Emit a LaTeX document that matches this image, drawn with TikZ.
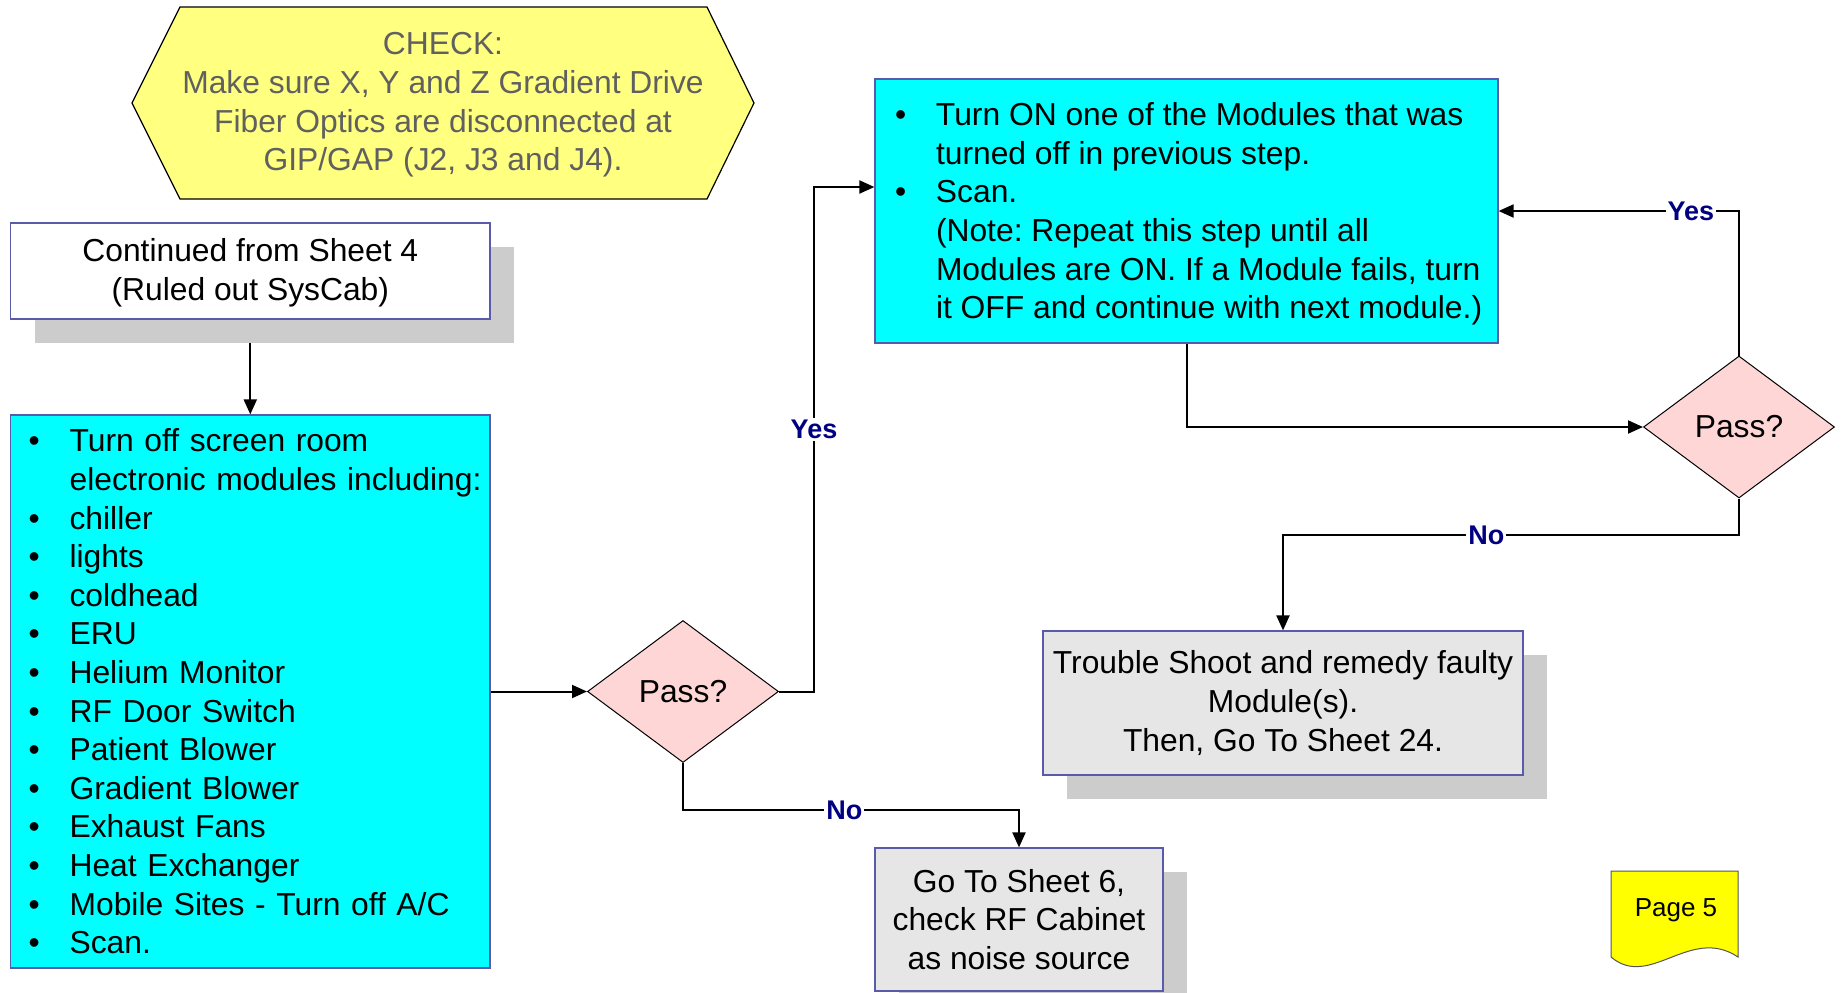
\documentclass[tikz,border=0pt]{standalone}
\usepackage{fontspec}
\setmainfont{Liberation Sans}
\usetikzlibrary{shapes.geometric,arrows.meta,shadows}

\definecolor{cyanfill}{HTML}{00FFFF}
\definecolor{boxedge}{HTML}{5A5AAA}
\definecolor{decfill}{HTML}{FFD6D6}
\definecolor{grayfill}{HTML}{E6E6E6}
\definecolor{shadowgray}{HTML}{CCCCCC}
\definecolor{hexfill}{HTML}{FFFF80}
\definecolor{hextext}{HTML}{606060}
\definecolor{navy}{HTML}{000080}
\definecolor{pagefill}{HTML}{FFFF00}
\definecolor{pageedge}{HTML}{555555}

\pgfdeclarelayer{edges}
\pgfsetlayers{edges,main}

\frenchspacing

% bullet line and indented continuation line
\newcommand{\itembul}[1]{\mbox{\makebox[20.5pt][l]{\textbullet}#1}}
\newcommand{\itemcont}[1]{\mbox{\hspace*{20.5pt}#1}}
% lower a block without changing the size the node sees
\newcommand{\lowerby}[2]{\raisebox{-#1}[\height][\depth]{#2}}

\begin{document}
\begin{tikzpicture}[x=0.5pt,y=-0.5pt,
  txt/.style={font=\fontsize{15.9}{19.3}\selectfont},
  shadowed/.style={drop shadow={shadow xshift=12pt,shadow yshift=-12pt,opacity=1,fill=shadowgray}},
  procbox/.style={txt,draw=boxedge,line width=0.6pt,fill=cyanfill,inner ysep=0pt,align=left},
  plainbox/.style={txt,draw=boxedge,line width=0.6pt,fill=white,align=center,inner sep=0pt},
  graybox/.style={txt,draw=boxedge,line width=0.6pt,fill=grayfill,align=center,inner sep=0pt,shadowed},
  decision/.style={txt,diamond,draw=black,line width=0.5pt,fill=decfill,inner sep=0pt,
                   minimum width=95.5pt,minimum height=71pt},
  conn/.style={draw=black,line width=1pt,-{Triangle[length=7.5pt,width=6.5pt]}},
  lbl/.style={font=\fontsize{13.5}{15}\selectfont\bfseries,text=navy,fill=white,inner sep=1pt}
]
\useasboundingbox (0,0) rectangle (1844,992);

% check note
\draw[fill=hexfill,line width=0.6pt] (132,103) -- (180,7) -- (707,7) -- (754,103)
  -- (707,199) -- (180,199) -- cycle;
\node[txt,text=hextext,align=center] (check) at (443,105)
  {CHECK:\\Make sure X, Y and Z Gradient Drive\\Fiber Optics are disconnected at\\GIP/GAP (J2, J3 and J4).};

% process boxes
\node[plainbox,shadowed,minimum width=239.7pt,minimum height=48pt] (cont) at (250.3,271)
  {\lowerby{1pt}{\begin{tabular}{@{}c@{}}Continued from Sheet 4\\(Ruled out SysCab)\end{tabular}}};

\node[procbox,inner xsep=9pt,text width=221.7pt,minimum width=239.7pt,minimum height=276.5pt]
  (turnoff) at (250.3,691.5)
  {\itembul{Turn off screen room}\\
   \itemcont{electronic modules including:}\\
   \itembul{chiller}\\
   \itembul{lights}\\
   \itembul{coldhead}\\
   \itembul{ERU}\\
   \itembul{Helium Monitor}\\
   \itembul{RF Door Switch}\\
   \itembul{Patient Blower}\\
   \itembul{Gradient Blower}\\
   \itembul{Exhaust Fans}\\
   \itembul{Heat Exchanger}\\
   \itembul{Mobile Sites - Turn off A/C}\\
   \itembul{Scan.}};

\node[decision] (pass1) at (683,691.5) {Pass?};

\node[procbox,inner xsep=10pt,minimum width=311.5pt,minimum height=132pt]
  (turnon) at (1186.5,211)
  {\lowerby{1.5pt}{\parbox{291.5pt}{\raggedright
   \itembul{Turn ON one of the Modules that was}\\
   \itemcont{turned off in previous step.}\\
   \itembul{Scan.}\\
   \itemcont{(Note: Repeat this step until all}\\
   \itemcont{Modules are ON. If a Module fails, turn}\\
   \itemcont{it OFF and continue with next module.)}}}};

\node[decision] (pass2) at (1739,427) {Pass?};

\node[graybox,minimum width=240pt,minimum height=72pt] (trouble) at (1283,703)
  {Trouble Shoot and remedy faulty\\Module(s).\\Then, Go To Sheet 24.};

\node[graybox,minimum width=144pt,minimum height=71.5pt] (goto) at (1019,919.5)
  {Go To Sheet 6,\\check RF Cabinet\\as noise source};

% page marker
\draw[fill=pagefill,draw=pageedge,line width=0.5pt] (1611,871) -- (1738,871) -- (1738,957)
  .. controls (1690,925) and (1650,990) .. (1611,957) -- cycle;
\node[font=\fontsize{13}{15}\selectfont] (page) at (1676,910) {Page 5};

% connector bends
\coordinate (yesbend) at (814,187);
\coordinate (nobend1) at (1019,810);
\coordinate (nobend2) at (1283,535);

\begin{pgfonlayer}{edges}
\draw[conn] (cont.south) -- (turnoff.north);
\draw[conn] (turnoff.east) -- (pass1.west);
\draw[conn] (pass1.east) -| node[lbl,pos=0.76] {Yes} (yesbend) -- ([yshift=12pt]turnon.west);
\draw[conn] (turnon.south) |- (pass2.west);
\draw[conn] (pass2.north) |- node[lbl,pos=0.6] {Yes} (turnon.east);
\draw[conn] (pass2.south) |- node[lbl,pos=0.777] {No} (nobend2) -- (trouble.north);
\draw[conn] (pass1.south) |- node[lbl,pos=0.74] {No} (nobend1) -- (goto.north);
\end{pgfonlayer}
\end{tikzpicture}
\end{document}
